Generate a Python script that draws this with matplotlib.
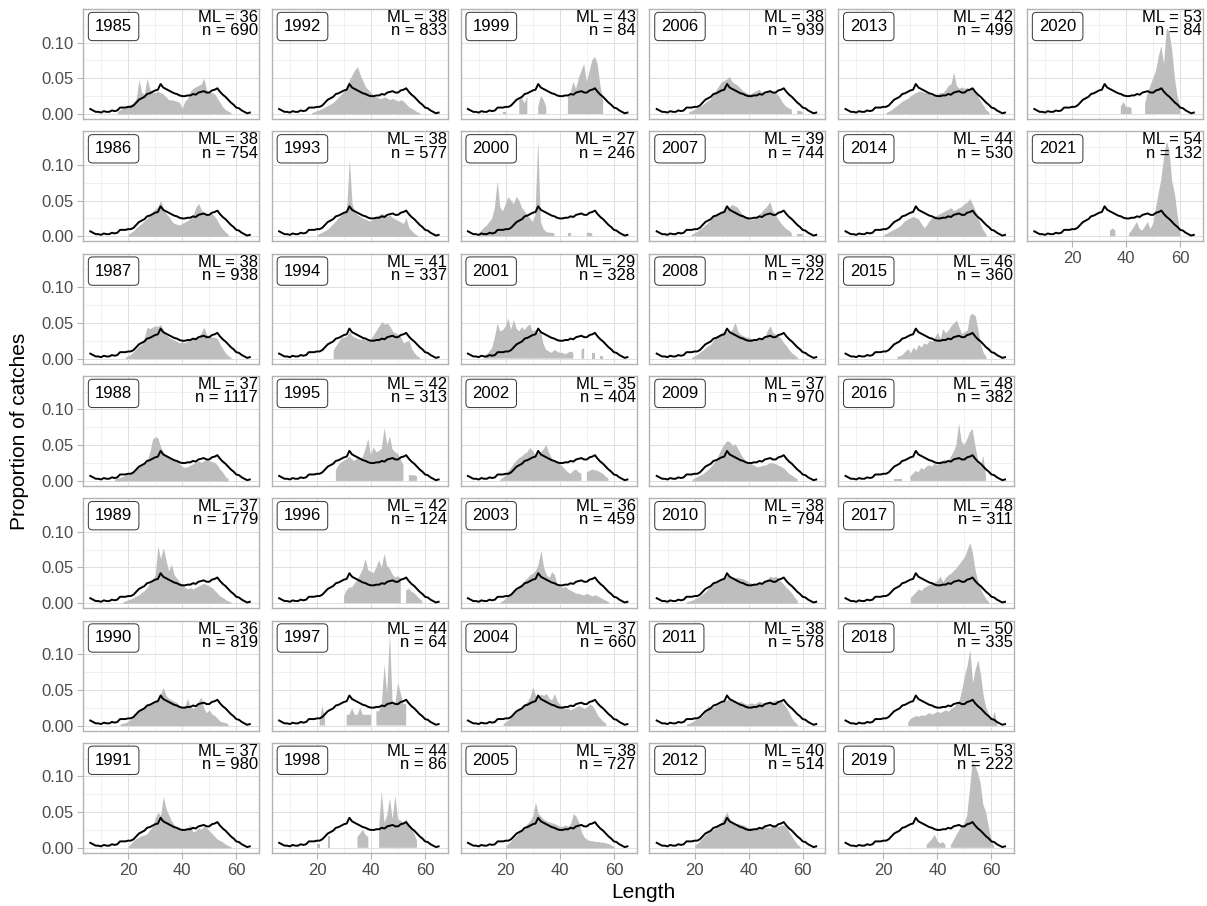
import numpy as np
import matplotlib
matplotlib.use('Agg')
import matplotlib.pyplot as plt

plt.rcParams['font.family'] = ['Liberation Sans', 'DejaVu Sans']

nan = np.nan

years = list(range(1985, 2022))
mean_len = [36, 38, 38, 37, 37, 36, 37, 38, 38, 41, 42, 42, 44, 44, 43, 27, 29, 35, 36,
            37, 38, 38, 39, 39, 37, 38, 38, 40, 42, 44, 46, 48, 48, 50, 53, 53, 54]
n_fish = [690, 754, 938, 1117, 1779, 819, 980, 833, 577, 337, 313, 124, 64, 86, 84, 246,
          328, 404, 459, 660, 727, 939, 744, 722, 970, 794, 578, 514, 499, 530, 360, 382,
          311, 335, 222, 84, 132]

# overall length distribution (all years), proportion x 1000, lengths 6..65
all_len = np.arange(6, 66)
all_prop = [7, 5, 3, 3, 2, 4, 3, 3, 5, 4, 5, 9, 9, 9, 10, 10, 12, 16, 20, 22,
            24, 28, 29, 31, 33, 34, 42, 37, 35, 33, 31, 29, 28, 26, 25, 25, 26, 26, 28, 27,
            30, 31, 32, 30, 30, 33, 34, 36, 31, 27, 24, 20, 16, 13, 9, 8, 5, 3, 1, 2]

# first length of each yearly series
first_len = [16, 20, 19, 15, 18, 17, 20, 18, 20, 26, 27, 30, 21, 20, 19, 10, 12, 18, 18,
             19, 20, 18, 19, 19, 19, 17, 17, 20, 21, 20, 25, 24, 30, 29, 36, 38, 34]

# yearly proportions x 1000, one value per cm from first_len, nan = no catch
y1985 = [3, 6, 8, 8, 12, 14, 16, 22, 48, 30, 28, 50, 35, 30, 30, 32, 30, 28, 24, 20, 20, 19,
         18, 16, 8, 18, 22, 32, 36, 38, 40, 42, 50, 34, 30, 30, 28, 22, 16, 10, 6, 4, 2]
y1986 = [3, 5, 8, 12, 15, 18, 22, 25, 30, 35, 38, 42, 50, 40, 32, 28, 22, 18, 17, 16, 18, 20,
         22, 25, 30, 40, 46, 38, 32, 30, 30, 32, 28, 22, 15, 10, 6, 3]
y1987 = [2, 4, 6, 10, 14, 18, 20, 30, 44, 42, 44, 46, 45, 48, 40, 34, 30, 28, 26, 24, 22, 24,
         22, 25, 26, 28, 27, 30, 36, 44, 34, 32, 30, 30, 28, 20, 14, 8, 4, 2]
y1988 = [3, 4, 5, 6, 8, 9, 10, 12, 16, 20, 22, 25, 28, 40, 58, 62, 60, 48, 40, 36, 34, 32, 30,
         28, 24, 20, 19, 20, 22, 24, 26, 28, 26, 28, 30, 28, 27, 26, 22, 16, 12, 6, 3]
y1989 = [2, 3, 5, 6, 8, 10, 12, 15, 18, 22, 28, 32, 40, 80, 62, 78, 60, 45, 55, 40, 35, 30, 26,
         22, 20, 22, 20, 22, 24, 26, 28, 26, 24, 22, 18, 14, 10, 8, 5, 3, 2]
y1990 = [2, 3, 4, 6, 9, 12, 16, 20, 24, 26, 28, 30, 32, 35, 38, 45, 53, 42, 38, 36, 34, 32, 28,
         26, 28, 38, 26, 24, 26, 34, 40, 24, 18, 22, 16, 14, 10, 6, 5, 4, 2]
y1991 = [2, 6, 10, 13, 15, 17, 18, 20, 25, 30, 42, 50, 45, 72, 55, 46, 38, 32, 28, 26, 24, 25,
         28, 32, 22, 24, 28, 26, 30, 28, 24, 20, 16, 12, 10, 8, 5, 3, 2]
y1992 = [2, 3, 5, 6, 8, 10, 12, 14, 16, 20, 24, 28, 32, 40, 48, 55, 62, 66, 55, 46, 38, 34, 30,
         26, 24, 22, 22, 24, 22, 20, 22, 20, 18, 20, 18, 14, 10, 8, 6, 3, 2]
y1993 = [2, 4, 6, 8, 10, 14, 18, 22, 26, 30, 34, 40, 108, 45, 35, 30, 28, 25, 24, 22, 22, 24,
         28, 30, 32, 30, 28, 30, 26, 24, 22, 20, 18, 26, 12, 8, 4, 2]
y1994 = [12, 18, 24, 30, 30, 32, 38, 32, 30, 28, 27, 28, 26, 25, 28, 34, 40, 46, 52, 48, 50, 45,
         38, 36, 34, 30, 22, 24, 26, 14, 8, 4, 2]
y1995 = [15, 22, 26, 28, 30, 34, 30, 28, 32, 30, 34, 45, 59, 36, 47, 40, 42, 45, 74, 50, 62, 44,
         40, 38, 30, 22, nan, 8, 8, 8, 6]
y1996 = [10, 18, 22, 22, 28, 32, 40, 48, 62, 46, 44, 42, 50, 60, 50, 69, 52, 48, 40, 36, 38, 34,
         nan, 18, 20, 16, 14, 10, 6, 3]
y1997 = [5, 27, 10, nan, nan, nan, nan, nan, nan, nan, 15, 15, 24, 15, 15, 25, 15, 15, 15, 15,
         nan, 20, 20, 30, 85, 45, 130, 30, 30, 60, 45, 30, 30]
y1998 = [6, 6, nan, nan, 16, 16, nan, nan, nan, nan, nan, nan, nan, nan, nan, 15, 20, 25, 18, 15,
         nan, nan, nan, 30, 79, 35, 45, 69, 40, 73, 40, 38, 35, 40, 32, 30, 20, 10]
y1999 = [3, 3, nan, nan, nan, nan, 20, 22, 15, 25, nan, nan, nan, 10, 25, 20, 10, nan, nan, nan,
         nan, nan, nan, nan, 25, 30, 45, 35, 50, 60, 70, 45, 60, 75, 80, 70, 40, 20]
y2000 = [3, 8, 12, 15, 20, 25, 40, 77, 40, 35, 45, 55, 50, 45, 55, 50, 40, 35, 30, 25, 20, 30,
         135, 20, 10, 6, 5, 5, 4, nan, nan, nan, nan, 5, 5, nan, nan, nan, nan, nan, 5, 5, 4]
y2001 = [3, 6, 10, 15, 30, 49, 38, 40, 45, 56, 40, 54, 42, 38, 44, 40, 45, 48, 38, 40, 36, 38,
         20, 12, 10, 8, 12, 10, 8, 8, 6, 8, 10, 8, nan, nan, 12, 15, nan, nan, 8, 8, nan, 4, 4]
y2002 = [2, 4, 8, 14, 18, 24, 28, 32, 34, 38, 40, 46, 42, 36, 38, 40, 44, 50, 40, 32, 28, 26,
         24, 20, 16, 12, 10, 14, 16, 12, 10, nan, 12, 14, 16, 15, 14, 12, 10, 6, 3]
y2003 = [2, 4, 8, 10, 14, 18, 20, 24, 28, 32, 36, 40, 42, 46, 55, 74, 50, 40, 36, 44, 40, 26,
         24, 22, 24, 20, 18, 16, 14, 14, 12, 12, 14, 12, 10, 12, 10, 8, 6, 4, 2]
y2004 = [3, 5, 8, 12, 16, 20, 24, 26, 30, 34, 40, 55, 42, 40, 44, 42, 45, 38, 36, 45, 34, 30,
         26, 24, 24, 22, 24, 26, 28, 26, 24, 26, 30, 28, 22, 14, 10, 6, 3]
y2005 = [3, 6, 10, 14, 18, 22, 26, 30, 34, 38, 45, 64, 48, 44, 40, 38, 36, 35, 34, 32, 30, 30,
         32, 30, 34, 48, 44, 36, 22, 15, 12, 10, 10, 9, 9, 8, 8, 7, 6, 4, 2]
y2006 = [2, 4, 6, 8, 10, 12, 15, 18, 20, 26, 32, 38, 44, 46, 48, 52, 45, 42, 40, 36, 32, 30,
         28, 28, 30, 32, 34, 30, 28, 30, 32, 30, 30, 26, 20, 14, 10, 8, 6, nan, 5, 4, 3]
y2007 = [2, 4, 6, 9, 12, 15, 18, 22, 26, 30, 32, 34, 36, 38, 40, 44, 42, 40, 34, 30, 26, 24,
         22, 24, 26, 30, 34, 38, 42, 48, 36, 30, 24, 18, 14, 10, 8, 4, nan, 3, 3, 3]
y2008 = [2, 4, 6, 9, 12, 15, 18, 20, 26, 30, 34, 36, 38, 38, 36, 42, 51, 38, 34, 32, 30, 30,
         28, 26, 26, 28, 28, 30, 40, 46, 36, 34, 32, 28, 22, 18, 12, 8, 5, 2]
y2009 = [2, 4, 6, 8, 10, 13, 16, 20, 25, 30, 38, 46, 52, 56, 55, 50, 52, 45, 38, 32, 28, 25,
         24, 22, 20, 20, 22, 22, 24, 26, 25, 24, 22, 20, 18, 14, 10, 8, 5, 3]
y2010 = [2, 3, 4, 6, 8, 10, 13, 16, 20, 24, 28, 30, 32, 34, 36, 40, 38, 37, 36, 36, 35, 34,
         32, 30, 28, 27, 28, 30, 29, 32, 34, 38, 36, 38, 34, 30, 26, 22, 18, 14, 8, 4]
y2011 = [2, 3, 5, 7, 9, 11, 14, 20, 28, 24, 26, 28, 30, 32, 34, 36, 38, 36, 34, 32, 34, 32,
         30, 30, 32, 30, 32, 34, 32, 30, 34, 32, 34, 36, 35, 34, 30, 25, 18, 10, 5, 2]
y2012 = [4, 6, 10, 14, 18, 22, 24, 26, 28, 32, 36, 44, 50, 40, 36, 34, 34, 33, 32, 30, 28, 28,
         27, 28, 28, 28, 30, 28, 28, 30, 30, 30, 32, 32, 28, 22, 16, 10, 5, 2]
y2013 = [2, 4, 6, 9, 12, 15, 18, 20, 22, 25, 28, 30, 32, 32, 30, 30, 28, 26, 26, 28, 30, 30,
         34, 40, 42, 59, 40, 36, 38, 36, 37, 34, 36, 30, 24, 18, 12, 6, 3]
y2014 = [2, 4, 6, 8, 10, 12, 14, 18, 22, 24, 26, 28, 26, 24, 18, 12, 16, 22, 26, 28, 30, 32,
         34, 36, 38, 40, 36, 38, 40, 42, 46, 48, 53, 45, 36, 26, 16, 8, 3]
y2015 = [3, 4, 6, 10, 14, 8, 16, 12, 20, 16, 22, 20, 26, 24, 30, 37, 28, 42, 36, 40, 46, 50,
         54, 44, 35, 38, 40, 62, 63, 60, 40, 20, 8, 3]
y2016 = [3, 3, 3, 3, nan, nan, 6, 10, 14, 12, 18, 16, 20, 22, 20, 24, 22, 26, 28, 30, 26, 34,
         40, 50, 80, 55, 50, 58, 68, 73, 50, 30, 20, 35, 5]
y2017 = [8, 12, 16, 20, 18, 22, 24, 26, 28, 30, 32, 38, 30, 36, 40, 42, 46, 50, 55, 60, 65, 75,
         85, 70, 45, 30, 20, 12, 6, 2]
y2018 = [5, 10, 12, 14, 13, 15, 14, 16, 18, 16, 18, 20, 18, 20, 22, 20, 24, 26, 30, 35, 50, 70,
         85, 107, 60, 80, 92, 70, 40, 25, 15, 8, 20, 3]
y2019 = [4, 8, 12, 18, 10, 6, 8, 4, nan, 4, 10, 18, 24, 30, 34, 45, 80, 120, 115, 105, 90, 60,
         50, 30, 10, 2]
y2020 = [10, 17, 10, 10, 8, nan, nan, nan, nan, 15, 30, 40, 50, 60, 80, 95, 70, 120, 115, 90,
         50, 25, 10]
y2021 = [8, 11, 8, nan, nan, nan, nan, 3, 8, 14, 20, 10, 8, 14, 20, 10, 18, 40, 60, 80, 110,
         133, 120, 77, 60, 30, 5]

year_props = [y1985, y1986, y1987, y1988, y1989, y1990, y1991, y1992, y1993, y1994, y1995,
              y1996, y1997, y1998, y1999, y2000, y2001, y2002, y2003, y2004, y2005, y2006,
              y2007, y2008, y2009, y2010, y2011, y2012, y2013, y2014, y2015, y2016, y2017,
              y2018, y2019, y2020, y2021]

W, H = 1207, 906
fig = plt.figure(figsize=(W / 100, H / 100), dpi=100)

pw, ph = 176, 110
for i, yr in enumerate(years):
    col, row = divmod(i, 7)
    left = 83 + col * 188.8
    top = 9 + row * 122.3
    ax = fig.add_axes([left / W, 1 - (top + ph) / H, pw / W, ph / H])

    vals = np.array(year_props[i], dtype=float) / 1000
    lens = np.arange(first_len[i], first_len[i] + len(vals))
    ax.fill_between(lens, 0, vals, color='#BEBEBE', linewidth=0, zorder=2)
    ax.plot(all_len, np.array(all_prop) / 1000, color='black', lw=1.4, zorder=3)

    ax.set_xlim(3.3, 68.4)
    ax.set_ylim(-0.007, 0.147)
    ax.set_xticks([20, 40, 60])
    ax.set_xticks([10, 30, 50], minor=True)
    ax.set_yticks([0, 0.05, 0.10])
    ax.set_yticks([0.025, 0.075, 0.125], minor=True)
    ax.set_yticklabels(['0.00', '0.05', '0.10'])
    ax.set_axisbelow(True)
    ax.grid(which='major', color='#DEDEDE', lw=0.7)
    ax.grid(which='minor', color='#E6E6E6', lw=0.4)
    for s in ax.spines.values():
        s.set_color('#B3B3B3')
        s.set_linewidth(1.0)

    is_bottom = row == 6 or i == len(years) - 1
    is_left = col == 0
    ax.tick_params(which='minor', length=0)
    ax.tick_params(axis='x', which='major', color='#B3B3B3', labelcolor='#4D4D4D',
                   labelsize=12, length=4 if is_bottom else 0, pad=3,
                   labelbottom=is_bottom)
    ax.tick_params(axis='y', which='major', color='#B3B3B3', labelcolor='#4D4D4D',
                   labelsize=12, length=4 if is_left else 0, pad=3,
                   labelleft=is_left)

    # year tag in a rounded box, ML and n in the top right corner
    ax.text(12 / pw, 1 - 10 / ph, str(yr), ha='left', va='top', fontsize=12,
            transform=ax.transAxes, zorder=5,
            bbox=dict(boxstyle='round,pad=0.4,rounding_size=0.25', fc='white',
                      ec='#333333', lw=0.7))
    ax.text(1 - 1 / pw, 1 - 1 / ph, f'ML = {mean_len[i]}\nn = {n_fish[i]}',
            ha='right', va='top', ma='right', fontsize=12, linespacing=0.85,
            transform=ax.transAxes, zorder=5)

fig.text(20 / W, 1 - 431 / H, 'Proportion of catches', rotation=90,
         ha='center', va='center', fontsize=15)
fig.text(643 / W, 1 - 893 / H, 'Length', ha='center', va='center', fontsize=15)

fig.savefig('out.png', dpi=100)
